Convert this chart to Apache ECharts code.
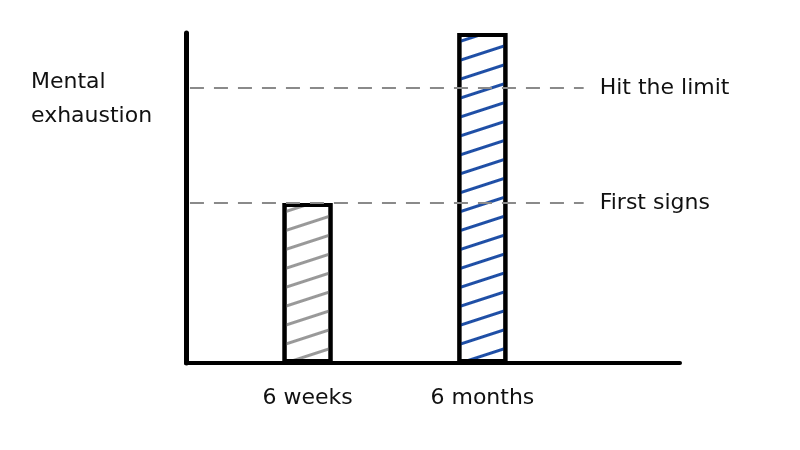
<!DOCTYPE html>
<html>
<head>
<meta charset="utf-8">
<script src="https://cdn.jsdelivr.net/npm/echarts@6/dist/echarts.min.js"></script>
<style>
  html, body { margin: 0; padding: 0; background: #fff; }
  #chart { width: 800px; height: 450px; }
</style>
</head>
<body>
<div id="chart"></div>
<script>
// categories and where they sit along the x axis (0..100)
const categories = ["6 weeks", "6 months"];
const catPos = [24.6, 60.0];
const exhaustion = [48.5, 100];
const hatchColors = ["#999999", "#1f4fa6"];

// reference levels
const levelNames = ["Hit the limit", "First signs"];
const levelValues = [83.3, 48.5];
const levelEnd = 80.5;

const FONT = "DejaVu Sans";

const chart = echarts.init(document.getElementById("chart"));

const barData = categories.map((c, i) => ({
  value: [catPos[i], exhaustion[i]],
  itemStyle: {
    color: "#fff",
    borderColor: "#000",
    borderWidth: 4,
    decal: {
      symbol: "rect",
      color: hatchColors[i],
      dashArrayX: [[1, 0]],
      dashArrayY: [2.5, 15],
      rotation: -Math.PI / 10,
      symbolSize: 1
    }
  }
}));

const markData = levelNames.map((n, i) => [
  { coord: [0.8, levelValues[i]], name: n },
  { coord: [levelEnd, levelValues[i]] }
]);

chart.setOption({
  animation: false,
  title: {
    text: "Mental\nexhaustion",
    left: 26,
    top: 60,
    textStyle: { fontFamily: FONT, fontSize: 22, fontWeight: "normal", color: "#111", lineHeight: 34 }
  },
  grid: { left: 186, right: 120, top: 33, bottom: 87 },
  xAxis: {
    type: "value",
    min: 0,
    max: 100,
    splitLine: { show: false },
    axisLine: { show: true, lineStyle: { color: "#000", width: 4 } },
    axisTick: { show: false },
    axisLabel: {
      customValues: catPos,
      margin: 24,
      fontFamily: FONT,
      fontSize: 22,
      color: "#111",
      formatter: v => categories[catPos.indexOf(v)] || ""
    }
  },
  yAxis: {
    type: "value",
    min: 0,
    max: 100,
    splitLine: { show: false },
    axisLine: { show: true, lineStyle: { color: "#000", width: 5 } },
    axisTick: { show: false },
    axisLabel: { show: false }
  },
  series: [
    {
      type: "bar",
      barWidth: 50,
      barMinWidth: 50,
      data: barData,
      markLine: {
        silent: true,
        symbol: "none",
        lineStyle: { color: "#8a8a8a", type: [14, 10], width: 2 },
        label: {
          show: true,
          position: "end",
          distance: 16,
          formatter: "{b}",
          fontFamily: FONT,
          fontSize: 22,
          color: "#111"
        },
        data: markData
      }
    }
  ]
});
</script>
</body>
</html>
